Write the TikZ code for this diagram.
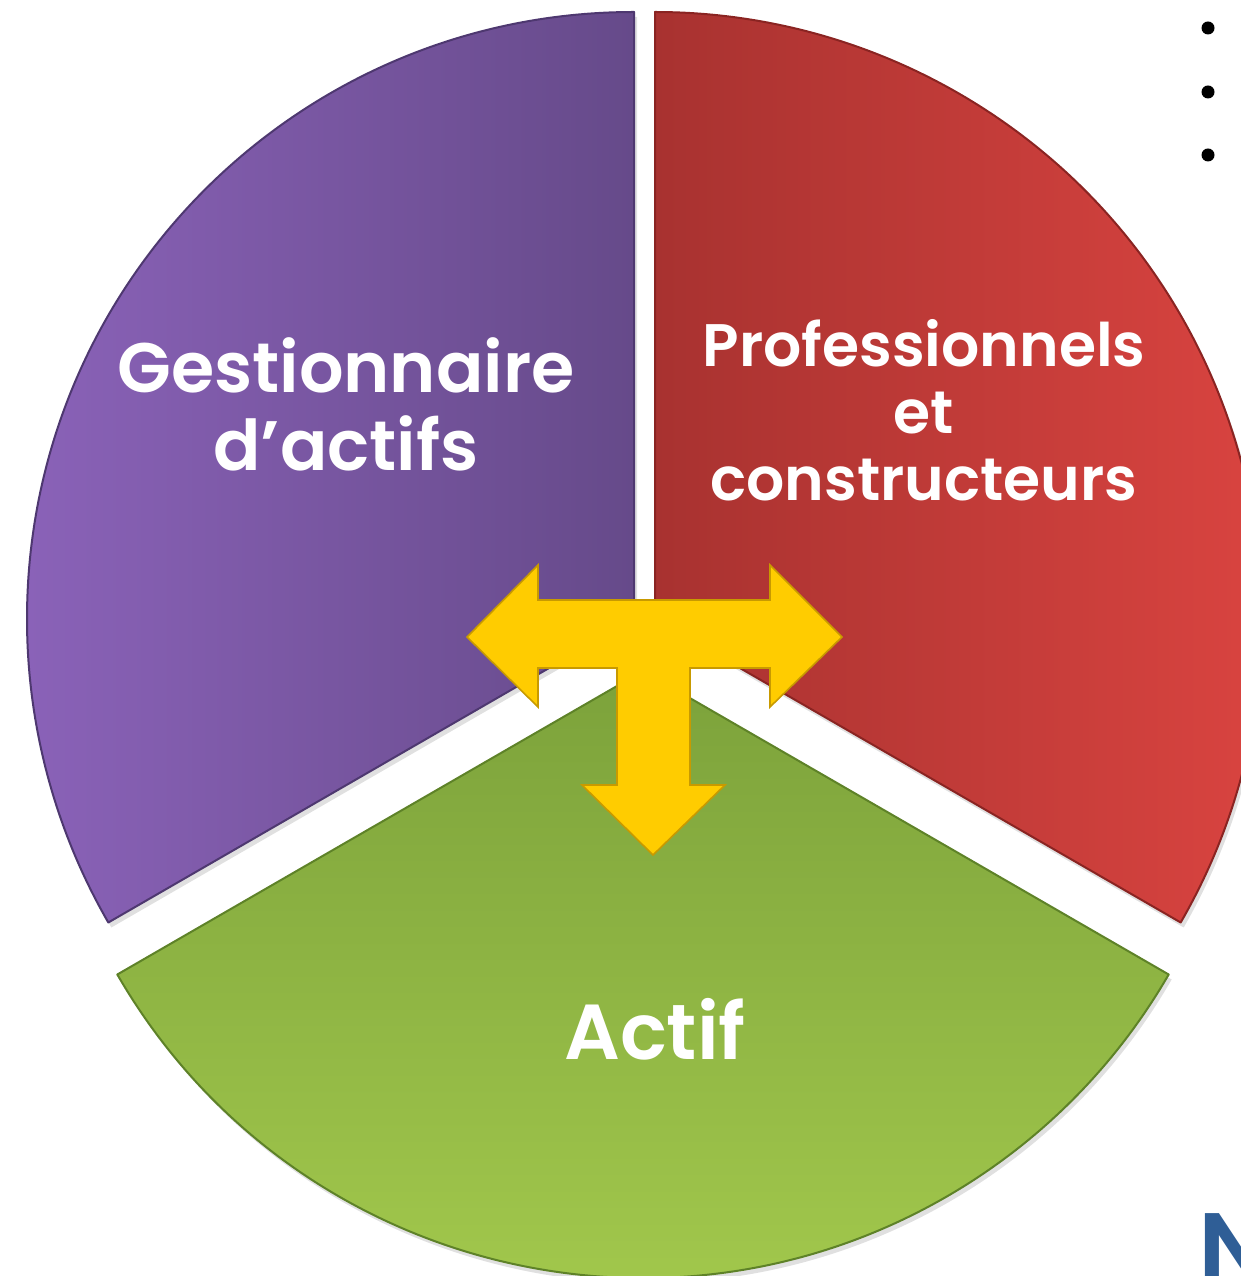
\documentclass[tikz,border=0pt]{standalone}
\usepackage{fontspec}
\setmainfont{Poppins}
\IfFontExistsTF{Poppins SemiBold}{\newfontfamily\gras{Poppins SemiBold}}{\newcommand\gras{\bfseries}}
\usetikzlibrary{calc}

\definecolor{violetG}{HTML}{8A62B8}
\definecolor{violetD}{HTML}{664A8A}
\definecolor{violetB}{HTML}{4E3870}
\definecolor{rougeG}{HTML}{A83230}
\definecolor{rougeD}{HTML}{E04642}
\definecolor{rougeB}{HTML}{8A2422}
\definecolor{vertH}{HTML}{7CA23B}
\definecolor{vertB}{HTML}{A6CC4E}
\definecolor{vertL}{HTML}{5E8228}
\definecolor{jauneF}{HTML}{FFCC00}
\definecolor{jauneB}{HTML}{C89A00}
\definecolor{bleuN}{HTML}{2F5E96}

\begin{document}
\begin{tikzpicture}[x=0.5pt, y=0.5pt,
  secteur/.style={line width=1pt, line join=round},
  ombre/.style={fill=black, opacity=0.12},
  etiq/.style={text=white, align=center, inner sep=0pt},
  puce/.style={circle, fill=black, inner sep=0pt, minimum size=6.5pt},
  fleche/.style={fill=jauneF, draw=jauneB, line width=0.8pt, line join=miter}]
\useasboundingbox (0,0) rectangle (1241,1276);
\clip (0,0) rectangle (1241,1276);

% centres des trois secteurs (camembert eclate)
\coordinate (cv) at (634,657);
\coordinate (cr) at (655,657);
\coordinate (cg) at (643,605);

% ombres
\fill[ombre] ($(cv)+(3,-5)$) -- ++(90:607) arc (90:210:607) -- cycle;
\fill[ombre] ($(cr)+(3,-5)$) -- ++(-30:607) arc (-30:90:607) -- cycle;
\fill[ombre] ($(cg)+(3,-5)$) -- ++(210:607) arc (210:330:607) -- cycle;

% secteurs
\path[secteur, left color=violetG, right color=violetD, draw=violetB]
  (cv) -- ++(90:607) arc (90:210:607) -- cycle;
\path[secteur, left color=rougeG, right color=rougeD, draw=rougeB]
  (cr) -- ++(-30:607) arc (-30:90:607) -- cycle;
\path[secteur, top color=vertH, bottom color=vertB, draw=vertL]
  (cg) -- ++(210:607) arc (210:330:607) -- cycle;

% fleche en T
\draw[fleche] (467,639) -- (538,711) -- (538,676) -- (770,676) -- (770,711)
  -- (842,639) -- (770,569) -- (770,608) -- (690,608) -- (690,491)
  -- (725,491) -- (653,421) -- (582,491) -- (617,491) -- (617,608)
  -- (538,608) -- (538,569) -- cycle;

% etiquettes
\node[etiq, font=\fontsize{35}{39}\selectfont\gras] (gest) at (346,872)
  {Gestionnaire\\d’actifs};
\node[etiq, font=\fontsize{30}{33.5}\selectfont\gras] (prof) at (924,866)
  {Professionnels\\et\\constructeurs};
\node[etiq, font=\fontsize{39}{39}\selectfont\gras] (actif) at (655,247)
  {Actif};

% puces et lettre coupee
\node[puce] (p1) at (1208,1248) {};
\node[puce] (p2) at (1208,1184) {};
\node[puce] (p3) at (1208,1121) {};
\node[anchor=base west, inner sep=0pt, text=bleuN,
  font=\fontsize{50}{50}\selectfont\gras] (lettre) at (1198,-7) {N};
\end{tikzpicture}
\end{document}
